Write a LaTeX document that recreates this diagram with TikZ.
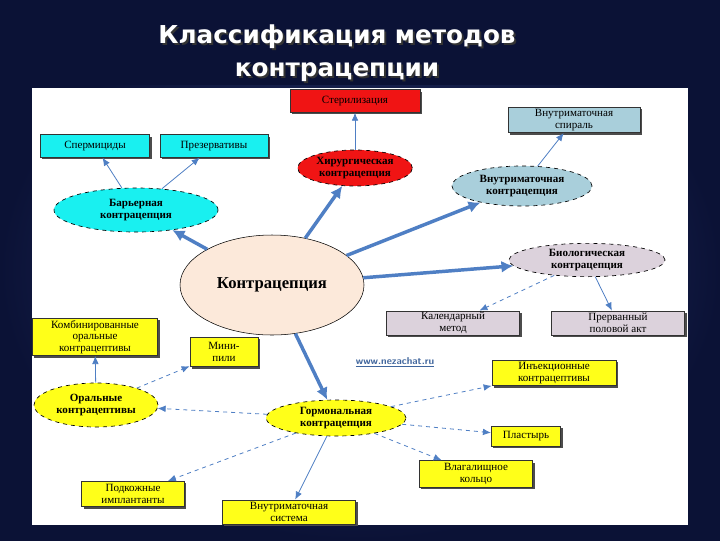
\documentclass[tikz,border=0pt]{standalone}
\usepackage{fontspec}
\setmainfont{Liberation Serif}
\newfontfamily\titlefont{DejaVu Sans}
\usetikzlibrary{shapes.geometric,arrows.meta,shadows}
\definecolor{bgdark}{HTML}{0B1236}
\definecolor{bglight}{HTML}{2E3D78}
\definecolor{arrowblue}{HTML}{4F7FC4}
\definecolor{cyanf}{HTML}{19F0F0}
\definecolor{lblue}{HTML}{A9CFDB}
\definecolor{lav}{HTML}{DCD2DC}
\definecolor{peach}{HTML}{FCE9DA}
\definecolor{yel}{HTML}{FFFF19}
\definecolor{redf}{HTML}{F01414}
\tikzset{
 x=0.75pt,y=-0.75pt,
 box/.style={draw=black!80,line width=0.6pt,rectangle,align=center,font=\fontsize{8.3}{8.8}\selectfont,inner sep=1pt,drop shadow={shadow xshift=1.5pt,shadow yshift=-1.5pt,fill=black!70,opacity=1}},
 ell/.style={draw=black,ellipse,dashed,line width=0.5pt,align=center,font=\bfseries\fontsize{8.3}{9.3}\selectfont,inner sep=0pt},
 thick arr/.style={arrowblue,line width=2.6pt,-{Latex[length=9pt,width=9pt]}},
 thin arr/.style={arrowblue,line width=0.6pt,-{Latex[length=6pt,width=5pt]}},
 dash arr/.style={arrowblue,line width=0.6pt,dashed,-{Latex[length=6pt,width=5pt]}},
}
\begin{document}
\begin{tikzpicture}
\useasboundingbox (0,0) rectangle (720,540);
\shade[inner color=bglight,outer color=bgdark] (0,0) rectangle (720,540);
\fill[bgdark] (0,0) rectangle (720,85);
\fill[white] (32,88) rectangle (688,525);
\node[black!80,font=\titlefont\bfseries\fontsize{18.5}{25}\selectfont,align=center] (titleshadow) at (339,55) {Классификация методов\\контрацепции};
\node[white,font=\titlefont\bfseries\fontsize{18.5}{25}\selectfont,align=center] (title) at (337,53) {Классификация методов\\контрацепции};
% nodes
\node[box,fill=redf,minimum width=97.5pt,minimum height=17pt] (ster) at (355,101) {Стерилизация};
\node[box,fill=cyanf,minimum width=82pt,minimum height=17pt] (sperm) at (95,146) {Спермициды};
\node[box,fill=cyanf,minimum width=81pt,minimum height=17pt] (prez) at (214,146) {Презервативы};
\node[box,fill=lblue,minimum width=99pt,minimum height=19pt] (spir) at (574,120) {Внутриматочная\\спираль};
\node[ell,fill=redf,minimum width=86pt,minimum height=27pt] (hir) at (355,168) {Хирургическая\\контрацепция};
\node[ell,fill=lblue,minimum width=105pt,minimum height=30pt] (vmk) at (522,186) {Внутриматочная\\контрацепция};
\node[ell,fill=cyanf,minimum width=123pt,minimum height=33pt] (bar) at (136,210) {Барьерная\\контрацепция};
\node[ell,fill=lav,minimum width=117pt,minimum height=25pt] (bio) at (587,260) {Биологическая\\контрацепция};
\node[draw=black,ellipse,fill=peach,minimum width=138pt,minimum height=75pt,font=\bfseries\fontsize{12.5}{14}\selectfont] (main) at (272,285) {Контрацепция};
\node[box,fill=lav,minimum width=100pt,minimum height=18pt] (kal) at (453,323) {Календарный\\метод};
\node[box,fill=lav,minimum width=100pt,minimum height=18pt] (prer) at (618,323) {Прерванный\\половой акт};
\node[box,fill=yel,minimum width=94pt,minimum height=28pt] (komb) at (95,337) {Комбинированные\\оральные\\контрацептивы};
\node[box,fill=yel,minimum width=51pt,minimum height=22pt] (mini) at (224,352) {Мини-\\пили};
\node[ell,fill=yel,minimum width=93pt,minimum height=33pt] (oral) at (96,405) {Оральные\\контрацептивы};
\node[ell,fill=yel,minimum width=105pt,minimum height=27pt] (gorm) at (336,418) {Гормональная\\контрацепция};
\node[box,fill=yel,minimum width=93pt,minimum height=19pt] (inj) at (554,373) {Инъекционные\\контрацептивы};
\node[box,fill=yel,minimum width=52pt,minimum height=15pt] (plast) at (526,436) {Пластырь};
\node[box,fill=yel,minimum width=85pt,minimum height=20pt] (vlag) at (476,474) {Влагалищное\\кольцо};
\node[box,fill=yel,minimum width=77pt,minimum height=19pt] (podk) at (133,494) {Подкожные\\имплантанты};
\node[box,fill=yel,minimum width=100pt,minimum height=18pt] (vms) at (289,512) {Внутриматочная\\система};
\node[text=arrowblue!80!black,font=\sffamily\bfseries\fontsize{7.5}{8}\selectfont] (url) at (395,362) {\underline{www.nezachat.ru}};
% thick arrows
\draw[thick arr] (main) -- (bar);
\draw[thick arr] (main) -- (hir);
\draw[thick arr] (main) -- (vmk);
\draw[thick arr] (main) -- (bio);
\draw[thick arr] (main) -- (gorm);
% thin arrows
\draw[thin arr] (hir) -- (ster);
\draw[thin arr] (bar) -- (sperm);
\draw[thin arr] (bar) -- (prez);
\draw[thin arr] (vmk) -- (spir);
\draw[thin arr] (bio) -- (prer);
\draw[dash arr] (bio) -- (kal);
\draw[thin arr] (oral) -- (komb);
\draw[dash arr] (oral) -- (mini);
\draw[dash arr] (gorm) -- (oral);
\draw[dash arr] (gorm) -- (inj);
\draw[dash arr] (gorm) -- (plast);
\draw[dash arr] (gorm) -- (vlag);
\draw[dash arr] (gorm) -- (podk);
\draw[thin arr] (gorm) -- (vms);
\end{tikzpicture}
\end{document}
